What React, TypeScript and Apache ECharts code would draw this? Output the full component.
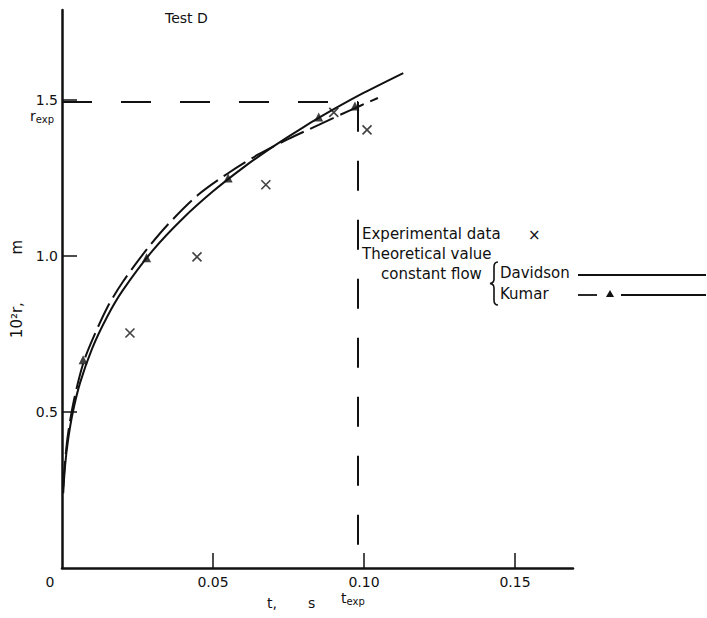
import React, { useEffect, useRef } from "react";
import * as echarts from "echarts";

// ---- data (t in s, r in 10^-2 m) ----
const X_TICKS = [0, 0.05, 0.1, 0.15];
const X_TICK_LABELS = ["0", "0.05", "0.10", "0.15"];
const Y_TICKS = [0.5, 1.0, 1.5];
const Y_TICK_LABELS = ["0.5", "1.0", "1.5"];

const T_EXP = 0.098;
const R_EXP = 1.494;

const DAVIDSON_T = [0.0004, 0.001, 0.002, 0.0036, 0.006, 0.01, 0.015, 0.02, 0.03, 0.04, 0.05, 0.06, 0.07, 0.08, 0.09, 0.1, 0.113];
const DAVIDSON_R = [0.24, 0.326, 0.41, 0.5, 0.594, 0.704, 0.806, 0.888, 1.017, 1.12, 1.207, 1.283, 1.351, 1.413, 1.47, 1.523, 1.586];

const KUMAR_T = [0.0004, 0.001, 0.002, 0.004, 0.007, 0.01, 0.015, 0.02, 0.028, 0.035, 0.045, 0.055, 0.065, 0.075, 0.085, 0.095, 0.1046];
const KUMAR_R = [0.26, 0.34, 0.43, 0.54, 0.655, 0.73, 0.835, 0.915, 1.02, 1.1, 1.195, 1.265, 1.325, 1.375, 1.42, 1.465, 1.506];

const KUMAR_MARK_T = [0.007, 0.028, 0.055, 0.085, 0.097];
const KUMAR_MARK_R = [0.667, 0.994, 1.25, 1.445, 1.48];

const EXP_T = [0.0225, 0.0447, 0.0675, 0.09, 0.101];
const EXP_R = [0.753, 0.997, 1.228, 1.46, 1.404];

const FONT = "DejaVu Sans";
const INK = "#111";

const zip = (a: number[], b: number[]) => a.map((v, i) => [v, b[i]]);

const BRACE_D =
  "M5,0 Q1,0 1,5 L1,17 Q1,21 -3,21.5 Q1,22 1,26 L1,38 Q1,43 5,43";
let braceRegistered = false;

export default function App() {
  const ref = useRef<HTMLDivElement>(null);
  useEffect(() => {
    if (!ref.current) return;
    if (!braceRegistered) {
      echarts.graphic.registerShape("brace", echarts.graphic.extendPath(BRACE_D, {}));
      braceRegistered = true;
    }
    const chart = echarts.init(ref.current, null, { renderer: "svg" });
    const txt = (x: number, y: number, text: string, size = 14) => ({
      type: "text",
      x,
      y,
      style: { text, fill: INK, font: `${size}px "${FONT}"`, textVerticalAlign: "middle" },
    });
    const sub = (x: number, y: number, main: string, s: string) => ({
      type: "text",
      x,
      y,
      style: {
        text: `{a|${main}}{b|${s}}`,
        textVerticalAlign: "middle",
        rich: {
          a: { fontFamily: FONT, fontSize: 14, fill: INK, color: INK },
          b: { fontFamily: FONT, fontSize: 10, fill: INK, color: INK, padding: [6, 0, 0, 0] },
        },
      },
    });
    const option: any = {
      animation: false,
      backgroundColor: "#fff",
      grid: { left: 62, top: 10, right: 134, bottom: 50 },
      xAxis: {
        type: "value",
        min: 0,
        max: 0.1692,
        axisLine: { show: true, onZero: false, lineStyle: { color: INK, width: 2.5 } },
        axisTick: { show: true, inside: true, length: 15, lineStyle: { color: INK, width: 1.5 }, customValues: X_TICKS.slice(1) },
        axisLabel: {
          customValues: X_TICKS,
          margin: 7,
          color: INK,
          fontFamily: FONT,
          fontSize: 14,
          formatter: (v: number) => {
            const i = X_TICKS.findIndex((t) => Math.abs(t - v) < 1e-9);
            const s = i >= 0 ? X_TICK_LABELS[i] : "";
            return v === 0 ? `{z|${s}}` : s;
          },
          rich: { z: { fontFamily: FONT, fontSize: 14, color: INK, padding: [0, 24, 0, 0] } },
        },
        splitLine: { show: false },
      },
      yAxis: {
        type: "value",
        min: 0,
        max: 1.788,
        name: "10²r,          m",
        nameLocation: "middle",
        nameRotate: 90,
        nameGap: 36,
        nameTextStyle: { color: INK, fontFamily: FONT, fontSize: 15 },
        axisLine: { show: true, onZero: false, lineStyle: { color: INK, width: 2.5 } },
        axisTick: { show: true, inside: true, length: 15, lineStyle: { color: INK, width: 1.5 }, customValues: Y_TICKS },
        axisLabel: {
          customValues: Y_TICKS,
          margin: 4,
          color: INK,
          fontFamily: FONT,
          fontSize: 14,
          formatter: (v: number) => {
            const i = Y_TICKS.findIndex((t) => Math.abs(t - v) < 1e-9);
            return i >= 0 ? Y_TICK_LABELS[i] : "";
          },
        },
        splitLine: { show: false },
      },
      series: [
        {
          name: "Davidson",
          type: "line",
          smooth: 0.3,
          symbol: "none",
          data: zip(DAVIDSON_T, DAVIDSON_R),
          lineStyle: { color: INK, width: 2 },
          markLine: {
            silent: true,
            symbol: "none",
            label: { show: false },
            lineStyle: { color: INK, width: 2, type: [30, 29] },
            data: [
              [{ coord: [0, R_EXP] }, { coord: [T_EXP, R_EXP] }],
              [{ coord: [T_EXP, R_EXP] }, { coord: [T_EXP, 0] }],
            ],
          },
        },
        {
          name: "Kumar",
          type: "line",
          smooth: 0.3,
          symbol: "none",
          data: zip(KUMAR_T, KUMAR_R),
          lineStyle: { color: INK, width: 2, type: [26, 7] },
        },
        {
          name: "Kumar points",
          type: "scatter",
          symbol: "triangle",
          symbolSize: 9,
          itemStyle: { color: INK },
          data: zip(KUMAR_MARK_T, KUMAR_MARK_R),
        },
        {
          name: "Experimental data",
          type: "scatter",
          symbol: "path://M0,0L10,10M10,0L0,10",
          symbolSize: 9,
          itemStyle: { color: "none", borderColor: INK, borderWidth: 1.6 },
          data: zip(EXP_T, EXP_R),
        },
      ],
      graphic: [
        txt(165, 18, "Test D", 14),
        sub(30, 116, "r", "exp"),
        sub(341, 598, "t", "exp"),
        txt(267, 603, "t,       s", 14),
        txt(362, 234, "Experimental data", 15),
        txt(528, 235, "×", 15),
        txt(362, 254, "Theoretical value", 15),
        txt(381, 274, "constant flow", 15),
        { type: "brace", x: 493, y: 262, style: { stroke: INK, fill: "none", lineWidth: 1.6 } },
        txt(500, 273, "Davidson", 15),
        txt(500, 294, "Kumar", 15),
        { type: "line", shape: { x1: 578, y1: 275, x2: 706, y2: 275 }, style: { stroke: INK, lineWidth: 1.8 } },
        { type: "line", shape: { x1: 578, y1: 295, x2: 597, y2: 295 }, style: { stroke: INK, lineWidth: 1.8 } },
        { type: "polygon", shape: { points: [[610, 290], [606, 297], [614, 297]] }, style: { fill: INK } },
        { type: "line", shape: { x1: 621, y1: 295, x2: 706, y2: 295 }, style: { stroke: INK, lineWidth: 1.8 } },
      ],
    };
    chart.setOption(option);
    return () => chart.dispose();
  }, []);
  return <div ref={ref} style={{ position: "fixed", left: 0, top: 0, width: 707, height: 618 }} />;
}
